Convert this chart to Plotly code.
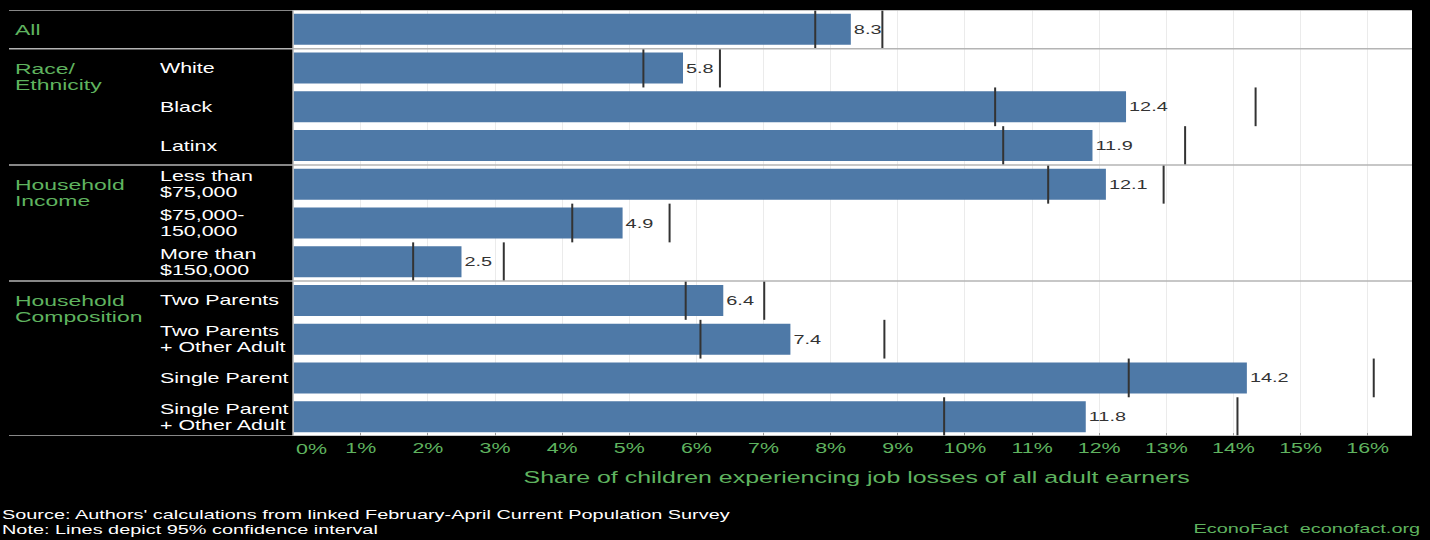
import plotly.graph_objects as go

# ---------------- data ----------------
sub_labels = ["", "White", "Black", "Latinx",
              "Less than<br>$75,000", "$75,000-<br>150,000", "More than<br>$150,000",
              "Two Parents", "Two Parents<br>+ Other Adult", "Single Parent",
              "Single Parent<br>+ Other Adult"]
values = [8.3, 5.8, 12.4, 11.9, 12.1, 4.9, 2.5, 6.4, 7.4, 14.2, 11.8]
ci_low = [7.77, 5.21, 10.45, 10.57, 11.24, 4.15, 1.78, 5.84, 6.06, 12.44, 9.69]
ci_high = [8.77, 6.35, 14.33, 13.28, 12.96, 5.60, 3.13, 7.01, 8.80, 16.09, 14.06]
group_labels = ["All", "Race/<br>Ethnicity", "Household<br>Income", "Household<br>Composition"]
group_first_row = [0, 1, 4, 7]
tick_values = list(range(0, 17))
tick_labels = [f"{v}%" for v in tick_values]
x_title = "Share of children experiencing job losses of all adult earners"
source_lines = ["Source: Authors' calculations from linked February-April Current Population Survey",
                "Note: Lines depict 95% confidence interval"]
brand = "EconoFact  econofact.org"

# ---------------- style ----------------
W, H = 1430, 540
ML, MR, MT, MB = 293, 18, 10, 104
PW, PH = W - ML - MR, H - MT - MB
FONT = "Liberation Sans, Arial, sans-serif"
GREEN = "#5fb35f"
BAR = "#4e79a7"
SEP = "#b4b4b4"
LINE_H = 16

def px_x(px):
    return (px - ML) / PW

def px_y(py):
    return (MT + PH - py) / PH

rows = list(range(len(values)))

fig = go.Figure()
fig.add_trace(go.Bar(
    x=values, y=rows, orientation="h", width=0.8,
    marker=dict(color=BAR, line=dict(width=0)),
    text=[f"{v:.1f}" for v in values], textposition="outside",
    textfont=dict(family=FONT, size=13, color="#333333"),
    cliponaxis=False, hoverinfo="skip", showlegend=False,
))

ci_x, ci_y = [], []
for r, lo, hi in zip(rows, ci_low, ci_high):
    for v in (lo, hi):
        ci_x += [v, v, None]
        ci_y += [r - 0.5, r + 0.5, None]
fig.add_trace(go.Scatter(x=ci_x, y=ci_y, mode="lines",
                         line=dict(color="#333333", width=2),
                         hoverinfo="skip", showlegend=False))

annotations = []
# sub-category labels (white)
for r, lab in enumerate(sub_labels):
    if not lab:
        continue
    parts = lab.split("<br>")
    n = len(parts)
    for k, p in enumerate(parts):
        annotations.append(dict(
            text=p, xref="paper", yref="y", x=px_x(158), y=r,
            xanchor="left", yanchor="middle", align="left",
            yshift=(n - 1) * LINE_H / 2 - k * LINE_H,
            showarrow=False, font=dict(family=FONT, size=14, color="white")))
# group labels (green)
for g, r in zip(group_labels, group_first_row):
    for k, p in enumerate(g.split("<br>")):
        annotations.append(dict(
            text=p, xref="paper", yref="y", x=px_x(13), y=r,
            xanchor="left", yanchor="middle", align="left",
            yshift=-k * LINE_H,
            showarrow=False, font=dict(family=FONT, size=15, color=GREEN)))
# 0% label (shifted like the original)
annotations.append(dict(text=tick_labels[0], xref="x", yref="paper", x=0, y=px_y(449),
                        xanchor="left", yanchor="middle", align="left", xshift=0,
                        showarrow=False, font=dict(family=FONT, size=14, color=GREEN)))
# source notes
for k, s in enumerate(source_lines):
    annotations.append(dict(text=s, xref="paper", yref="paper", x=px_x(0), y=px_y(514 + 15 * k),
                            xanchor="left", yanchor="middle", align="left",
                            showarrow=False, font=dict(family=FONT, size=13, color="white")))
annotations.append(dict(text=brand, xref="paper", yref="paper", x=px_x(1422), y=px_y(528),
                        xanchor="right", yanchor="middle", align="right",
                        showarrow=False, font=dict(family=FONT, size=13, color=GREEN)))
# axis title
annotations.append(dict(text=x_title, xref="paper", yref="paper", x=px_x(856), y=px_y(477),
                        xanchor="center", yanchor="middle", align="center",
                        showarrow=False, font=dict(family=FONT, size=16.3, color=GREEN)))

shapes = []
for yy in [-0.5, 0.5, 3.5, 6.5, 10.5]:
    shapes.append(dict(type="line", xref="paper", yref="y", x0=px_x(9), x1=1, y0=yy, y1=yy,
                       line=dict(color=SEP, width=1.5), layer="above"))
shapes.append(dict(type="line", xref="paper", yref="paper", x0=0, x1=0, y0=0, y1=1,
                   line=dict(color=SEP, width=1.5), layer="above"))

fig.update_layout(
    width=W, height=H, autosize=False,
    margin=dict(l=ML, r=MR, t=MT, b=MB, pad=0),
    paper_bgcolor="black", plot_bgcolor="white",
    font=dict(family=FONT),
    bargap=0.2,
    xaxis=dict(range=[-0.01, 16.66], tickvals=tick_values,
               ticktext=[""] + tick_labels[1:],
               tickfont=dict(family=FONT, size=14, color=GREEN),
               showgrid=True, gridcolor="#ebebeb", gridwidth=1,
               zeroline=False, ticks="inside", ticklen=3, tickcolor="#999999",
               ticklabelstandoff=2,
               showline=False, fixedrange=True),
    yaxis=dict(range=[10.5, -0.5], showticklabels=False, showgrid=False,
               zeroline=False, ticks="", fixedrange=True),
    annotations=annotations, shapes=shapes,
)

js = """
document.body.style.margin = '0';
document.body.style.padding = '0';
document.body.style.background = 'black';
var gd = document.getElementById('{plot_id}');
var S = 1.53;
gd.querySelectorAll('svg text').forEach(function(t){
  var bb = t.getBBox();
  var anc = t.getAttribute('text-anchor') || 'start';
  var left = t.classList.contains('bartext');
  var ax = left ? bb.x : (anc === 'middle' ? bb.x + bb.width / 2 : (anc === 'end' ? bb.x + bb.width : bb.x));
  var prev = t.getAttribute('transform') || '';
  t.setAttribute('transform', prev + ' translate(' + ax + ',0) scale(' + S + ',1) translate(' + (-ax) + ',0)');
});
"""
fig.write_html("out.html", config={"displayModeBar": False}, post_script=js)
